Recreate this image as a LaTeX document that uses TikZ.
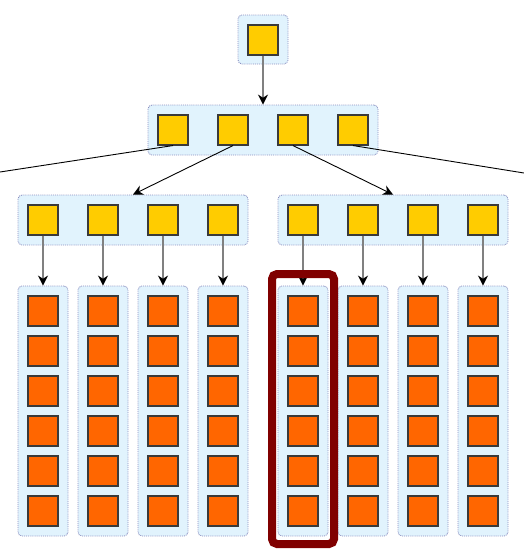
\documentclass[tikz,border=0pt]{standalone}
\usetikzlibrary{arrows.meta}
\definecolor{contfill}{HTML}{E1F3FD}
\definecolor{contline}{HTML}{8A8FC0}
\definecolor{ysq}{HTML}{FFCC00}
\definecolor{osq}{HTML}{FF6600}
\definecolor{sqline}{HTML}{3A3A3A}
\definecolor{hl}{HTML}{800000}
\begin{document}
\begin{tikzpicture}[x=1pt,y=-1pt,
  cont/.style={draw=contline, densely dotted, fill=contfill, rounded corners=4pt, inner sep=0pt, line width=0.9pt},
  ybox/.style={draw=sqline, fill=ysq, minimum size=30pt, inner sep=0pt, line width=1.1pt},
  obox/.style={draw=sqline, fill=osq, minimum size=30pt, inner sep=0pt, line width=1.1pt},
  varrow/.style={draw=gray, line width=1.3pt, -{Stealth[length=10pt,width=10pt,color=black]}},
  darrow/.style={draw=black, line width=0.9pt, -{Stealth[length=10pt,width=10pt]}},
  dline/.style={draw=black, line width=0.9pt},
  hlbox/.style={draw=hl, line width=8pt, rounded corners=5pt}]
\useasboundingbox (0,0) rectangle (524,552);
% containers
\node[cont, minimum width=50pt, minimum height=49pt] (c0) at (263,39.5) {};
\node[cont, minimum width=230pt, minimum height=50pt] (c1) at (263,130) {};
\node[cont, minimum width=230pt, minimum height=50pt] (c2L) at (133,220) {};
\node[cont, minimum width=230pt, minimum height=50pt] (c2R) at (393,220) {};
\foreach \i/\x in {1/43,2/103,3/163,4/223,5/303,6/363,7/423,8/483}{
  \node[cont, minimum width=50pt, minimum height=250pt] (c3\i) at (\x,411) {};
}
% squares
\node[ybox] (t) at (263,40) {};
\foreach \i/\x in {1/173,2/233,3/293,4/353}{
  \node[ybox] (m\i) at (\x,130) {};
}
\foreach \i/\x in {1/43,2/103,3/163,4/223,5/303,6/363,7/423,8/483}{
  \node[ybox] (l\i) at (\x,220) {};
  \foreach \j/\y in {1/311,2/351,3/391,4/431,5/471,6/511}{
    \node[obox] (o\i\j) at (\x,\y) {};
  }
}
% connectors
\draw[varrow] (t.south) -- (c1.north);
\coordinate (offL) at (0,172);
\coordinate (offR) at (524,173);
\draw[dline] (m1.south) -- (offL);
\draw[darrow] (m2.south) -- (c2L.north);
\draw[darrow] (m3.south) -- (c2R.north);
\draw[dline] (m4.south) -- (offR);
\foreach \i in {1,...,8}{
  \draw[varrow] (l\i.south) -- (c3\i.north);
}
% highlight
\draw[hlbox] (272,274) rectangle (334,544);
\end{tikzpicture}
\end{document}
